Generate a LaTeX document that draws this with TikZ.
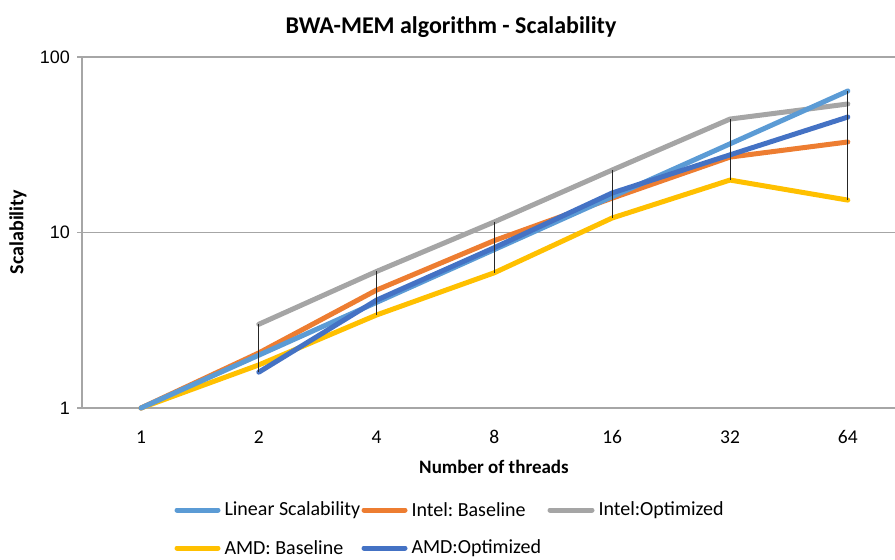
\documentclass[tikz,border=0pt]{standalone}
\usepackage{fontspec}
\setmainfont{Carlito}
\newfontfamily\arialfont{Liberation Sans}
\usepackage{xcolor}
\definecolor{linblue}{HTML}{5B9BD5}
\definecolor{intorange}{HTML}{ED7D31}
\definecolor{intgray}{HTML}{A5A5A5}
\definecolor{amdyellow}{HTML}{FFC000}
\definecolor{amdblue}{HTML}{4472C4}
\definecolor{gridgray}{HTML}{A6A6A6}
\frenchspacing

\begin{document}
\begin{tikzpicture}[x=1pt, y=-1pt]
    \tikzstyle{series}=[line width=5pt, line cap=round, line join=round]
    \tikzstyle{gridline}=[draw=gridgray, line width=1.2pt]
    \tikzstyle{hilo}=[draw=black!85, line width=0.9pt]
    \tikzstyle{ticklabel}=[font=\fontsize{19.5}{20}\selectfont, inner sep=0pt]
    \tikzstyle{valuelabel}=[font=\arialfont\fontsize{18}{18}\selectfont, anchor=east, inner sep=0pt]
    \tikzstyle{legendtext}=[font=\fontsize{20}{22}\selectfont, anchor=west, inner sep=0pt, text=black, xshift=4pt]

    \useasboundingbox (0,0) rectangle (895,560);

    \node[font=\bfseries\fontsize{24}{26}\selectfont] (title) at (451,27) {BWA-MEM algorithm - Scalability};

    \draw[gridline] (77,57) -- (895,57);
    \draw[gridline] (77,232.5) -- (895,232.5);
    \draw[gridline] (77,408) -- (895,408);
    \draw[gridline] (82,57) -- (82,408);

    \node[valuelabel] (v100) at (70,57) {100};
    \node[valuelabel] (v10) at (70,232.5) {10};
    \node[valuelabel] (v1) at (70,408) {1};
    \node[rotate=90, font=\bfseries\fontsize{20}{22}\selectfont] (ylab) at (18,232) {Scalability};

    \foreach \t [count=\i from 0] in {1,2,4,8,16,32,64}
        \node[ticklabel] (tick\i) at ({141+117.8*\i},437) {\t};
    \node[font=\bfseries\fontsize{19}{20}\selectfont] (xlab) at (494,467) {Number of threads};

    \foreach \v [count=\i from 0] in {1,2,4,8,16,32,64}
        \coordinate (lin\i) at ({141+117.8*\i},{408-175.5*log10(\v)});
    \foreach \v [count=\i from 0] in {1,2.06,4.7,9.0,15.7,26.9,32.8}
        \coordinate (ibase\i) at ({141+117.8*\i},{408-175.5*log10(\v)});
    \foreach \v [count=\i] in {3.0,6.0,11.5,22.7,44.3,54}
        \coordinate (iopt\i) at ({141+117.8*\i},{408-175.5*log10(\v)});
    \foreach \v [count=\i from 0] in {1,1.76,3.39,5.9,12.1,19.9,15.3}
        \coordinate (abase\i) at ({141+117.8*\i},{408-175.5*log10(\v)});
    \foreach \v [count=\i] in {1.6,4.12,8.2,16.8,27.7,45.5}
        \coordinate (aopt\i) at ({141+117.8*\i},{408-175.5*log10(\v)});

    \draw[series, intgray] (iopt1) \foreach \i in {2,...,6} {-- (iopt\i)};
    \draw[series, amdyellow] (abase0) \foreach \i in {1,...,6} {-- (abase\i)};
    \draw[series, intorange] (ibase0) \foreach \i in {1,...,6} {-- (ibase\i)};
    \draw[series, linblue] (lin0) \foreach \i in {1,...,6} {-- (lin\i)};
    \draw[series, amdblue] (aopt1) \foreach \i in {2,...,6} {-- (aopt\i)};

    \draw[hilo] (iopt1) -- (aopt1);
    \draw[hilo] (iopt2) -- (abase2);
    \draw[hilo] (iopt3) -- (abase3);
    \draw[hilo] (iopt4) -- (abase4);
    \draw[hilo] (iopt5) -- (abase5);
    \draw[hilo] (lin6) -- (abase6);

    \draw[series, linblue] (177,510) -- (218,510) node[legendtext] (keylin) {Linear Scalability};
    \draw[series, intorange] (364,510) -- (405,510) node[legendtext] (keyibase) {Intel: Baseline};
    \draw[series, intgray] (550,510) -- (592,510) node[legendtext] (keyiopt) {Intel:Optimized};
    \draw[series, amdyellow] (177,548) -- (218,548) node[legendtext] (keyabase) {AMD: Baseline};
    \draw[series, amdblue] (364,548) -- (405,548) node[legendtext] (keyaopt) {AMD:Optimized};
\end{tikzpicture}
\end{document}
